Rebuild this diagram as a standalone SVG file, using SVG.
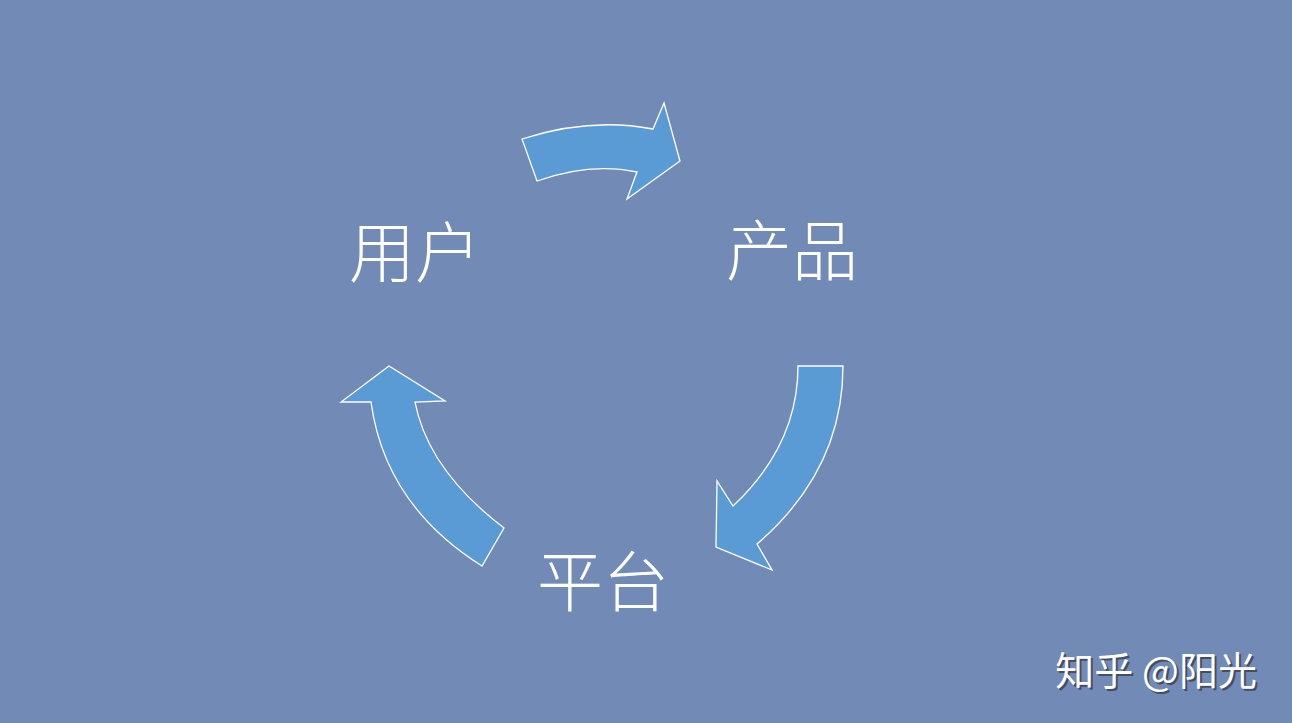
<svg xmlns="http://www.w3.org/2000/svg" width="1292" height="723" viewBox="0 0 1292 723">
<style>
.arrow{fill:#5B9BD5;stroke:#FFFFFF;stroke-width:1.3;stroke-linejoin:miter}
.label{font-family:"Microsoft YaHei","Noto Sans CJK SC","Noto Sans",sans-serif;font-size:66px;fill:#FFFFFF;text-anchor:middle;font-weight:300}
.wm{font-family:"Noto Sans CJK SC","Noto Sans",sans-serif;font-size:39px;text-anchor:end}
</style>
<rect x="0" y="0" width="1292" height="723" fill="#728AB6"/>
<g id="connectors">
<path id="arrow-top" class="arrow" d="M522,139 Q590,117 653,129 L664,103 L680,161 L627,199 L637,172 Q590,162 537,181 Z"/>
<path id="arrow-right" class="arrow" d="M798,366 L843,366 Q843,470 757,544 L772,570 L716,547 L717,481 L733,506 Q798,445 798,366 Z"/>
<path id="arrow-left" class="arrow" d="M504,528 Q428,470 415,402 L445,401 L389,366 L341,402 L371,402 Q385,505 482,566 Z"/>
</g>
<g id="node-user"><text class="label" x="415" y="277">用户</text></g>
<g id="node-product"><text class="label" x="792" y="275">产品</text></g>
<g id="node-platform"><text class="label" x="603" y="606">平台</text></g>
<g id="watermark">
<text class="wm" x="1259" y="687" fill="#3A3F4A" opacity="0.8">知乎 @阳光</text>
<text class="wm" x="1257" y="685" fill="#FFFFFF">知乎 @阳光</text>
</g>
</svg>
